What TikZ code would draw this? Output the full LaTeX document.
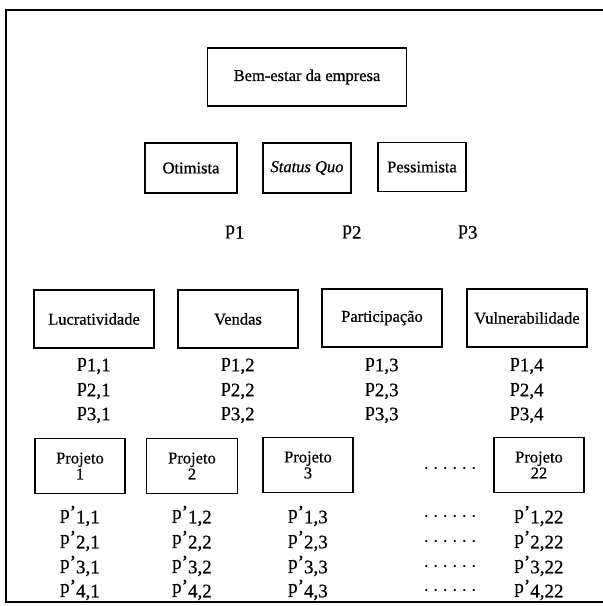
\documentclass[tikz,border=0pt]{standalone}
\usepackage{fontspec}
\setmainfont{Liberation Serif}[FakeBold=0.7]
\newcommand{\pv}[1]{p\raisebox{-0.5ex}{#1}}
\newcommand{\ppv}[1]{p\raisebox{0.05ex}{’}\raisebox{-0.5ex}{#1}}
\newcommand{\dotrow}{.\hspace{5.5pt}.\hspace{5.5pt}.\hspace{5.5pt}.\hspace{5.5pt}.\hspace{5.5pt}.}
\begin{document}
\begin{tikzpicture}[x=1pt,y=-1pt,
  box/.style={draw,line width=1.6pt,inner sep=0pt,font=\fontsize{16.5}{17}\selectfont,align=center},
  plab/.style={inner sep=0pt,font=\fontsize{19}{20}\selectfont},
  dotlab/.style={inner sep=0pt,font=\fontsize{16}{17}\selectfont},
  frame/.style={line width=1.6pt}]
\useasboundingbox (0,0) rectangle (603,606);
\coordinate (tl) at (6,10);
\coordinate (tr) at (603,10);
\coordinate (bl) at (6,602);
\coordinate (br) at (603,602);
\draw[frame] (tr) -- (tl) -- (bl) -- (br);
% top
\node[box,minimum width=199pt,minimum height=58pt] (top) at (307,77) {Bem-estar da empresa};
% scenarios
\node[box,minimum width=92pt,minimum height=50pt] (s1) at (191,168) {Otimista};
\node[box,minimum width=88pt,minimum height=50pt] (s2) at (307,168) {\textit{Status Quo}};
\node[box,minimum width=88pt,minimum height=49pt] (s3) at (422,167) {Pessimista};
\node[plab] (q1) at (235,232) {\pv{1}};
\node[plab] (q2) at (352,232) {\pv{2}};
\node[plab] (q3) at (468,232) {\pv{3}};
% criteria
\node[box,minimum width=120pt,minimum height=58pt] (c1) at (94,319) {Lucratividade};
\node[box,minimum width=120pt,minimum height=58pt] (c2) at (238,319) {Vendas};
\node[box,minimum width=120pt,minimum height=58pt] (c3) at (382,318) {Participação};
\node[box,minimum width=120pt,minimum height=58pt] (c4) at (527,318) {Vulnerabilidade};
\foreach \c/\x in {1/94,2/238,3/382,4/527}{
  \foreach \r/\y in {1/366,2/391,3/415}{
    \node[plab] (r\r c\c) at (\x,\y) {\pv{\r,\c}};
  }
}
% projects
\node[box,minimum width=90pt,minimum height=55pt] (j1) at (80,466) {Projeto\\[-1pt]1};
\node[box,minimum width=91pt,minimum height=55pt] (j2) at (192,466) {Projeto\\[-1pt]2};
\node[box,minimum width=90pt,minimum height=55pt] (j3) at (308,465) {Projeto\\[-1pt]3};
\node[dotlab] (jd) at (450,468) {\dotrow};
\node[box,minimum width=90pt,minimum height=55pt] (j22) at (539,465) {Projeto\\[-1pt]22};
\foreach \r/\y in {1/516,2/541,3/566,4/590}{
  \node[plab] (a\r) at (80,\y) {\ppv{\r,1}};
  \node[plab] (b\r) at (192,\y) {\ppv{\r,2}};
  \node[plab] (c\r) at (308,\y) {\ppv{\r,3}};
  \node[dotlab] (d\r) at (450,\y) {\dotrow};
  \node[plab] (e\r) at (539,\y) {\ppv{\r,22}};
}
\end{tikzpicture}
\end{document}
